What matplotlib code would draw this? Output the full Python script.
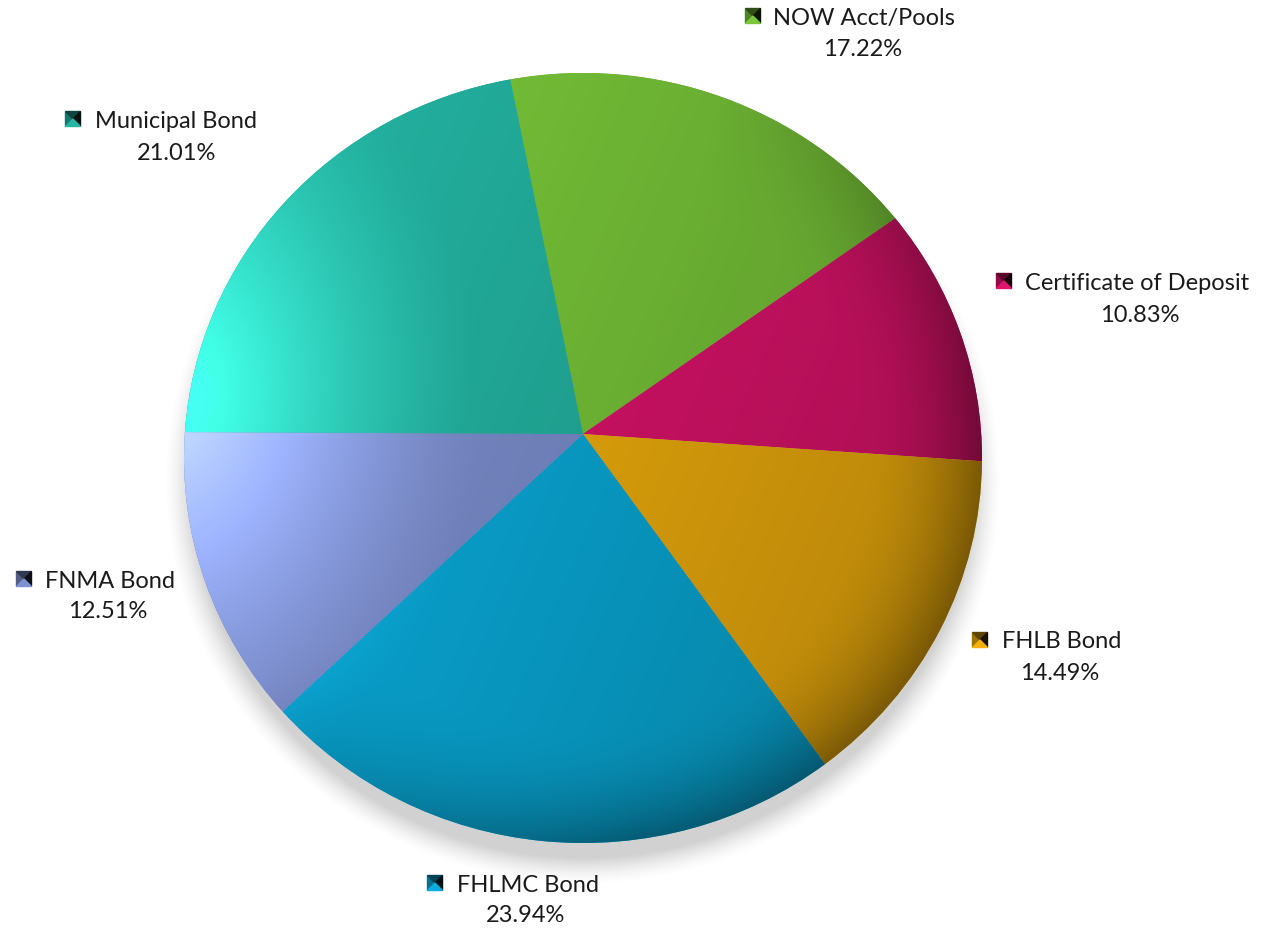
import numpy as np
import matplotlib.pyplot as plt
from matplotlib.patches import PathPatch
from matplotlib.path import Path
from matplotlib.colors import to_rgb

# Slice data (clockwise from top)
labels = ["NOW Acct/Pools", "Certificate of Deposit", "FHLB Bond",
          "FHLMC Bond", "FNMA Bond", "Municipal Bond"]
values = [17.22, 10.83, 14.49, 23.94, 12.51, 21.01]
colors = ["#6aae32", "#c3115f", "#d49a0b", "#0896bf", "#6d7db5", "#1f9e8e"]

# Label layout in pixels: marker centre, name start, percent centre
marker_xy = [(753, 16), (1004, 281), (980, 640), (435, 883), (24, 579), (73, 119)]
name_x = [773, 1025, 1002, 457, 45, 95]
pct_xy = [(863, 47), (1140, 313), (1060, 672), (526, 914), (108, 610), (177, 152)]

W, H = 1265, 932
CX, CY, RX, RY = 583, 458, 399, 385


def X(px):
    return (px - CX) / RX


def Y(py):
    return (CY - py) / RY


fig = plt.figure(figsize=(W / 100, H / 100), dpi=100)
ax = fig.add_axes([0, 0, 1, 1])

wedges, _ = ax.pie(values, colors=colors, startangle=100.5, counterclock=False,
                   radius=1, center=(0, 0))

# soft shadow, mostly under the pie
n = 700
gx, gy = np.meshgrid(np.linspace(-1.3, 1.3, n), np.linspace(-1.3, 1.3, n))
rr = np.sqrt((gx / 1.0) ** 2 + ((gy + 0.06) / 1.0) ** 2)
alpha = 0.3 * np.clip((1.05 - rr) / 0.07, 0, 1) ** 1.5
shadow = np.zeros((n, n, 4))
shadow[..., :3] = 0.4
shadow[..., 3] = alpha
ax.imshow(shadow, extent=[-1.3, 1.3, -1.3, 1.3], origin="lower",
          aspect="auto", zorder=0, interpolation="bilinear")

# lighting for the rounded look
m = 600
lx, ly = np.meshgrid(np.linspace(-1.02, 1.02, m), np.linspace(-1.02, 1.02, m))
r = np.sqrt(lx ** 2 + ly ** 2) + 1e-9
d = np.hypot(lx + 1.05, (ly - 0.15) * 0.8)
hl = np.clip(1 - d / 0.8, 0, 1) ** 1.4
grad = 1 + 0.12 * (-lx) + 0.05 * ly
rim = np.clip((r - 0.7) / 0.3, 0, 1) ** 2
dark = 0.34 * rim * np.clip(0.3 + (lx * 0.8 - ly * 0.6) / r, 0, 1)
factor = grad * (1 - dark) * (1 + 0.45 * hl)

apex = np.array([0, Y(434)])
for w, c in zip(wedges, colors):
    path = w.get_path()
    verts = path.vertices.copy()
    near = np.hypot(verts[:, 0], verts[:, 1]) < 1e-6
    verts[near] = apex
    w.remove()
    patch = PathPatch(Path(verts, path.codes), facecolor=c, edgecolor="none", zorder=2)
    ax.add_patch(patch)
    base = np.array(to_rgb(c))
    img = base[None, None, :] * factor[..., None] + 0.1 * hl[..., None]
    img = np.clip(img, 0, 1)
    im = ax.imshow(img, extent=[-1.02, 1.02, -1.02, 1.02], origin="lower",
                   aspect="auto", zorder=3, interpolation="bilinear")
    im.set_clip_path(patch)

# data labels with small legend keys
font = "Lato"
for lab, v, c, (mx, my), nx, (tx, ty) in zip(labels, values, colors, marker_xy, name_x, pct_xy):
    base = np.array(to_rgb(c))
    h = 7.5
    l, rgt, t, b = X(mx - h), X(mx + h), Y(my - h), Y(my + h)
    cx, cy = X(mx), Y(my)
    ax.fill([l, cx, l], [t, cy, b], color=base * 0.75, zorder=5)
    ax.fill([l, rgt, cx], [t, t, cy], color=base * 0.45, zorder=5)
    ax.fill([rgt, rgt, cx], [t, b, cy], color=base * 0.12, zorder=5)
    ax.fill([l, rgt, cx], [b, b, cy], color=np.clip(base * 1.15, 0, 1), zorder=5)
    ax.text(X(nx), Y(my), lab, ha="left", va="center_baseline", fontsize=17,
            family=font, color="#1a1a1a", zorder=6)
    ax.text(X(tx), Y(ty), f"{v:.2f}%", ha="center", va="center_baseline", fontsize=17,
            family=font, color="#1a1a1a", zorder=6)

ax.set_aspect("auto")
ax.set_xlim(X(0), X(W))
ax.set_ylim(Y(H), Y(0))
ax.axis("off")

fig.savefig("out.png", dpi=100)
